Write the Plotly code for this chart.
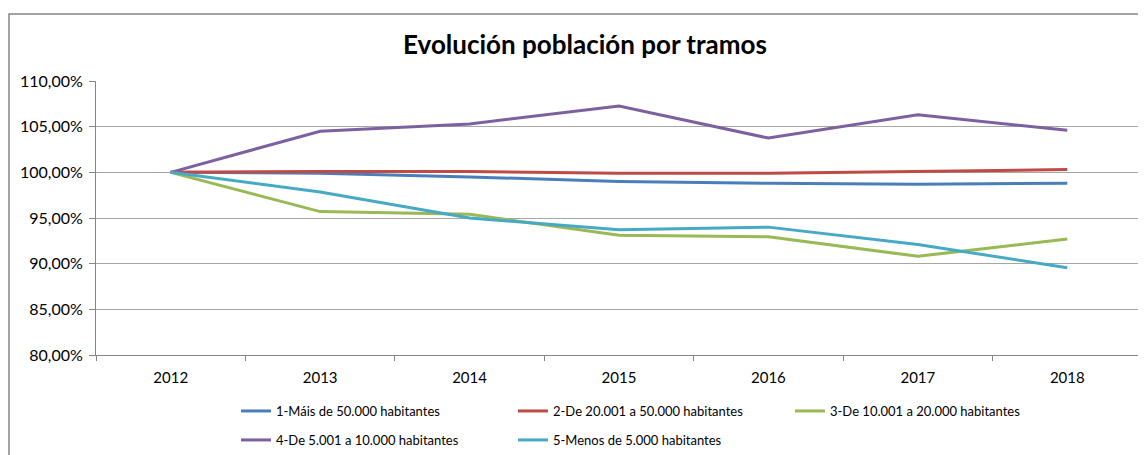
import plotly.graph_objects as go

years = ["2012", "2013", "2014", "2015", "2016", "2017", "2018"]
names = [
    "1-Máis de 50.000 habitantes",
    "2-De 20.001 a 50.000 habitantes",
    "3-De 10.001 a 20.000 habitantes",
    "4-De 5.001 a 10.000 habitantes",
    "5-Menos de 5.000 habitantes",
]
s1 = [100.0, 99.9, 99.5, 99.0, 98.8, 98.7, 98.8]
s2 = [100.0, 100.1, 100.1, 99.9, 99.9, 100.1, 100.3]
s3 = [100.0, 95.7, 95.4, 93.1, 92.95, 90.8, 92.7]
s4 = [100.0, 104.5, 105.3, 107.25, 103.75, 106.3, 104.6]
s5 = [100.0, 97.85, 95.0, 93.7, 94.0, 92.1, 89.55]
series = [s1, s2, s3, s4, s5]
colors = ["#4A7EBB", "#BE4B48", "#98B954", "#7D60A0", "#46AAC5"]
legends = ["legend", "legend", "legend", "legend2", "legend2"]

ytick_vals = [80, 85, 90, 95, 100, 105, 110]
ytick_text = ["80,00%", "85,00%", "90,00%", "95,00%", "100,00%", "105,00%", "110,00%"]

fig = go.Figure()
for n, s, c, lg in zip(names, series, colors, legends):
    fig.add_trace(go.Scatter(x=years, y=s, name=n, mode="lines",
                             line=dict(color=c, width=3), legend=lg))

# page body has an 8px margin; work in screen coordinates and convert
OFF = 8
W, H = 1146 - OFF, 500  # taller than viewport so legends never push margins
PL, PR, PT, PB = 96, 1142, 81, 355  # plot area in screen px
L, T = PL - OFF, PT - OFF
R, B = W - (PR - OFF), H - (PB - OFF)
pw, ph = PR - PL, PB - PT

def px(x):
    return (x - PL) / pw

def py(y):
    return 1 - (y - PT) / ph

font = "Lato, 'Open Sans', sans-serif"
fig.update_layout(
    width=W, height=H,
    margin=dict(l=L, r=R, t=T, b=B),
    paper_bgcolor="white", plot_bgcolor="white",
    font=dict(family=font, color="#000000", size=13),
    title=dict(text="<b>Evolución población por tramos</b>", x=px(585), xref="paper",
               xanchor="center", y=1 - (45 - OFF) / H, yanchor="middle",
               font=dict(size=26, family=font, color="#000000")),
    showlegend=True,
    legend=dict(orientation="h", x=px(236), y=py(411), xanchor="left", yanchor="middle",
                entrywidth=232, entrywidthmode="pixels", font=dict(size=13, family=font),
                bgcolor="rgba(0,0,0,0)", itemwidth=30, tracegroupgap=0),
    legend2=dict(orientation="h", x=px(236), y=py(440), xanchor="left", yanchor="middle",
                 entrywidth=232, entrywidthmode="pixels", font=dict(size=13, family=font),
                 bgcolor="rgba(0,0,0,0)", itemwidth=30, tracegroupgap=0),
    xaxis=dict(type="category", tickson="boundaries", ticks="outside", ticklen=5,
               tickcolor="#868686", showline=True, linecolor="#868686", linewidth=1,
               showgrid=False, tickfont=dict(size=15, family=font), range=[-0.5, 6.5],
               ticklabelstandoff=9, fixedrange=True),
    yaxis=dict(range=[80, 110], tickvals=ytick_vals, ticktext=ytick_text,
               ticks="outside", ticklen=6, tickcolor="#868686",
               showline=True, linecolor="#868686", linewidth=1,
               showgrid=True, gridcolor="#A6A6A6", gridwidth=1, ticklabelstandoff=3,
               tickfont=dict(size=16, family=font), zeroline=False, fixedrange=True),
    shapes=[dict(type="rect", xref="paper", yref="paper",
                 x0=px(9), x1=px(1160), y0=py(14), y1=py(520),
                 line=dict(color="#868686", width=1.5), fillcolor="rgba(0,0,0,0)",
                 layer="below")],
)

fig.write_html("out.html")
